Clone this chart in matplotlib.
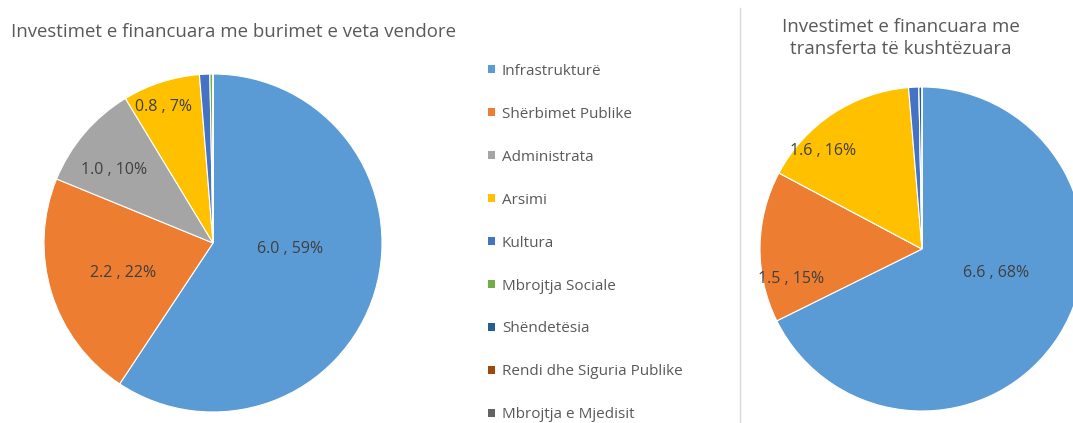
import matplotlib
matplotlib.use("Agg")
import matplotlib.pyplot as plt
import numpy as np

plt.rcParams['font.family'] = ['Open Sans', 'DejaVu Sans']

categories = ["Infrastrukturë", "Shërbimet Publike", "Administrata", "Arsimi",
              "Kultura", "Mbrojtja Sociale", "Shëndetësia",
              "Rendi dhe Siguria Publike", "Mbrojtja e Mjedisit"]
own_values = [6.02, 2.22, 1.03, 0.75, 0.10, 0.03, 0.0, 0.0, 0.0]
cond_values = [6.64, 1.48, 0.0, 1.56, 0.10, 0.0, 0.03, 0.0, 0.0]
colors = ["#5B9BD5", "#ED7D31", "#A5A5A5", "#FFC000", "#4472C4",
          "#70AD47", "#255E91", "#9E480E", "#636363"]
title_own = "Investimet e financuara me burimet e veta vendore"
title_cond = "Investimet e financuara me\ntransferta të kushtëzuara"

W, H = 1073, 423
fig = plt.figure(figsize=(W / 100, H / 100), dpi=100)
ax = fig.add_axes([0, 0, 1, 1])
ax.set_xlim(0, W)
ax.set_ylim(0, H)
ax.set_aspect('equal')
ax.axis('off')

label_color = "#404040"


def draw_pie(values, center, radius, label_pos):
    wedges, _ = ax.pie(values, colors=colors, startangle=90, counterclock=False,
                       center=center, radius=radius, frame=True,
                       wedgeprops=dict(edgecolor='white', linewidth=0.8))
    total = sum(values)
    for w, v, pos in zip(wedges, values, label_pos):
        if pos is None or v == 0:
            continue
        r, dtheta = pos
        mid = np.deg2rad((w.theta1 + w.theta2) / 2 + dtheta)
        x = center[0] + r * radius * np.cos(mid)
        y = center[1] + r * radius * np.sin(mid)
        ax.text(x, y, f"{v:.1f} , {v / total * 100:.0f}%", ha='center', va='center',
                fontsize=11.5, color=label_color)
    return wedges


w1 = draw_pie(own_values, (213, H - 243), 169,
              [(0.457, 12), (0.56, 1.3), (0.73, 4), (0.856, 2),
               None, None, None, None, None])
w2 = draw_pie(cond_values, (922, H - 249), 162,
              [(0.48, 14), (0.83, 13.8), None, (0.86, 11.7),
               None, None, None, None, None])

ax.set_xlim(0, W)
ax.set_ylim(0, H)

fig.text(11 / W, 1 - 32 / H, title_own, fontsize=13.4, color="#595959",
         ha='left', va='center')
fig.text(901 / W, 1 - 38 / H, title_cond, fontsize=13.5, color="#595959",
         ha='center', va='center', linespacing=1.35)

# separator line
ax.plot([740, 740], [0, H - 8], color="#D9D9D9", linewidth=1)

leg = ax.legend(w1, categories, loc='upper left', bbox_to_anchor=(474 / W, 1 - 50 / H),
                frameon=False, fontsize=11, labelcolor="#595959",
                handlelength=0.46, handleheight=0.46, handletextpad=0.46,
                labelspacing=1.83)
for h in leg.legend_handles:
    h.set_edgecolor('none')

fig.savefig("out.png", dpi=100)
